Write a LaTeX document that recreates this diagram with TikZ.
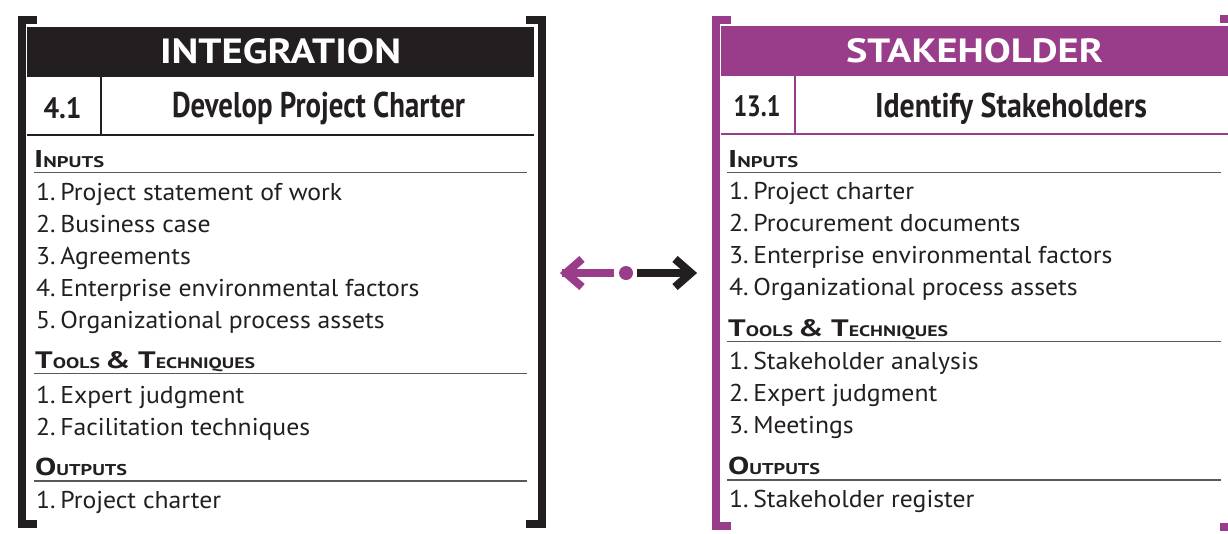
\documentclass[tikz,border=0pt]{standalone}
\usepackage{fontspec}
\setmainfont{PT Sans}
\usepackage{graphicx}
\definecolor{ink}{HTML}{231F20}
\definecolor{plum}{RGB}{153,61,139}
\definecolor{rulegray}{HTML}{58595B}
\newlength\reflen
\newcommand\fitw[2]{\resizebox{#1}{\height}{#2}}
\newcommand\fitwh[3]{\resizebox{#1}{#2}{#3}}
\newcommand\hsc[2]{{\fontsize{24.3}{24}\selectfont\bfseries #1}{\fontsize{15.5}{15}\selectfont\bfseries #2}}
\newcommand\bodyfont{\fontsize{24.3}{24}\selectfont}
\newcommand\itm[2]{\bodyfont #1\hspace{0.18em}#2}
\begin{document}
\settowidth{\reflen}{\itm{1.}{Project statement of work}}%
\pgfmathsetmacro\bodyfac{306/\reflen}%
\newcommand\bt[2]{\scalebox{\bodyfac}[1]{\itm{#1}{#2}}}%
\begin{tikzpicture}[x=1pt,y=-1pt,
  bracket/.style={line width=8pt, line join=miter, line cap=butt},
  txt/.style={anchor=base west, inner sep=0pt, text=ink},
  ctr/.style={anchor=base, inner sep=0pt},
  uline/.style={rulegray, line width=1.4pt},
  arrowline/.style={line width=8pt, line cap=butt, line join=miter}]
\useasboundingbox (0,0) rectangle (1228,533);
\fill[white] (0,0) rectangle (1228,533);
\clip (0,0) rectangle (1228,533);
% ---------- left panel ----------
\draw[bracket, ink] (37,19.5) -- (22,19.5) -- (22,523.5) -- (37,523.5);
\draw[bracket, ink] (526,19.5) -- (542,19.5) -- (542,523.5) -- (526,523.5);
\fill[ink] (27,27) rectangle (534,77);
\draw[ink, line width=2.5pt] (27,135) -- (534,135);
\draw[ink, line width=2pt] (100.5,77) -- (100.5,135);
\node[ctr, text=white] (tL) at (280.5,63) {\fitwh{241pt}{25pt}{\fontsize{35.7}{36}\selectfont\bfseries INTEGRATION}};
\node[ctr, text=ink] (nL) at (62.5,118) {\fitwh{38pt}{21pt}{\fontsize{30}{30}\selectfont\bfseries 4.1}};
\node[ctr, text=ink] (pL) at (318.5,117) {\fitwh{293pt}{25.5pt}{\fontsize{35.7}{36}\selectfont\bfseries Develop Project Charter}};
\node[txt] (hiL) at (34,167) {\fitwh{70pt}{17pt}{\hsc{I}{NPUTS}}};
\draw[uline] (34,172.5) -- (527,172.5);
\node[txt] (iL1) at (36,200) {\bt{1.}{Project statement of work}};
\node[txt] (iL2) at (36,232) {\bt{2.}{Business case}};
\node[txt] (iL3) at (36,264) {\bt{3.}{Agreements}};
\node[txt] (iL4) at (36,296) {\bt{4.}{Enterprise environmental factors}};
\node[txt] (iL5) at (36,328) {\bt{5.}{Organizational process assets}};
\node[txt] (htL) at (35,368) {\fitwh{220pt}{17pt}{\hsc{T}{OOLS }\hsc{\& T}{ECHNIQUES}}};
\draw[uline] (34,373.5) -- (527,373.5);
\node[txt] (tL1) at (36,403) {\bt{1.}{Expert judgment}};
\node[txt] (tL2) at (36,435) {\bt{2.}{Facilitation techniques}};
\node[txt] (hoL) at (35,475) {\fitwh{92pt}{17.5pt}{\hsc{O}{UTPUTS}}};
\draw[uline] (34,481) -- (527,481);
\node[txt] (oL1) at (36,508) {\bt{1.}{Project charter}};
% ---------- right panel ----------
\draw[bracket, plum] (731,20) -- (715.5,20) -- (715.5,525.5) -- (731,525.5);
\draw[bracket, plum] (1220,19) -- (1236,19) -- (1236,527) -- (1220,527);
\fill[plum] (721,26) rectangle (1228,76);
\draw[plum, line width=2.5pt] (721,134) -- (1228,134);
\draw[plum, line width=2pt] (794.5,76) -- (794.5,134);
\node[ctr, text=white] (tR) at (974.5,62) {\fitwh{257pt}{24pt}{\fontsize{35.7}{36}\selectfont\bfseries STAKEHOLDER}};
\node[ctr, text=ink] (nR) at (757,116.5) {\fitwh{47pt}{21pt}{\fontsize{30}{30}\selectfont\bfseries 13.1}};
\node[ctr, text=ink] (pR) at (1011,117) {\fitwh{272pt}{24.5pt}{\fontsize{34.5}{35}\selectfont\bfseries Identify Stakeholders}};
\node[txt] (hiR) at (728,167) {\fitwh{70pt}{17pt}{\hsc{I}{NPUTS}}};
\draw[uline] (727,172.5) -- (1221,172.5);
\node[txt] (iR1) at (729,199) {\bt{1.}{Project charter}};
\node[txt] (iR2) at (729,231) {\bt{2.}{Procurement documents}};
\node[txt] (iR3) at (729,263) {\bt{3.}{Enterprise environmental factors}};
\node[txt] (iR4) at (729,295) {\bt{4.}{Organizational process assets}};
\node[txt] (htR) at (728,336) {\fitwh{220pt}{17pt}{\hsc{T}{OOLS }\hsc{\& T}{ECHNIQUES}}};
\draw[uline] (727,341.5) -- (1221,341.5);
\node[txt] (tR1) at (729,369) {\bt{1.}{Stakeholder analysis}};
\node[txt] (tR2) at (729,401) {\bt{2.}{Expert judgment}};
\node[txt] (tR3) at (729,433) {\bt{3.}{Meetings}};
\node[txt] (hoR) at (728,474) {\fitwh{92pt}{17.5pt}{\hsc{O}{UTPUTS}}};
\draw[uline] (727,480) -- (1221,480);
\node[txt] (oR1) at (729,507) {\bt{1.}{Stakeholder register}};
% ---------- middle arrows ----------
\node[circle, fill=plum, minimum size=14pt, inner sep=0pt] (dot) at (626,273) {};
\coordinate (lt) at (562,273);
\coordinate (rt) at (692,273);
\draw[arrowline, plum] ([xshift=-5pt]dot.west) -- (lt);
\draw[arrowline, plum] (582,259) -- (566,273) -- (582,287);
\draw[arrowline, ink] ([xshift=4pt]dot.east) -- (rt);
\draw[arrowline, ink] (675,259) -- (691,273) -- (675,287);
\end{tikzpicture}
\end{document}
